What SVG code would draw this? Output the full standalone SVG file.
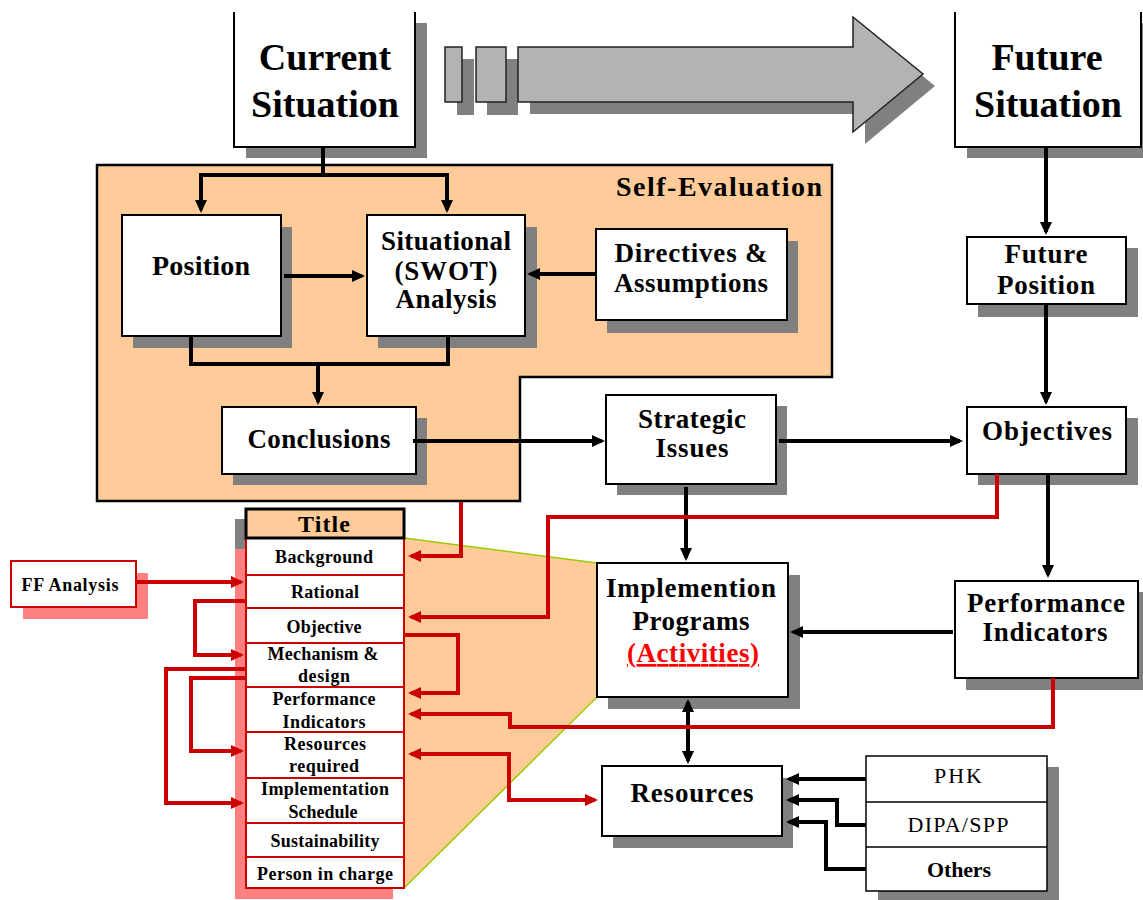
<svg xmlns="http://www.w3.org/2000/svg" width="1143" height="900" viewBox="0 0 1143 900">
  <style>
    .sh { fill: #808080; }
    .bx { fill: #ffffff; stroke: #000000; stroke-width: 2; }
    .rbx { fill: #ffffff; stroke: #cc0000; stroke-width: 2; }
    .t { font-weight: bold; text-anchor: middle; fill: #000; }
    .big { font-size: 38px; }
    .mid { font-size: 27px; }
    .sm { font-size: 18px; }
    .blk { fill: none; stroke: #000; stroke-width: 4; }
    .red { fill: none; stroke: #cc0000; stroke-width: 4; }
  </style>
  <defs>
    <marker id="ah" markerUnits="userSpaceOnUse" viewBox="0 0 14 14" markerWidth="14" markerHeight="14" refX="10" refY="7" orient="auto-start-reverse">
      <path d="M0,1 L13,7 L0,13 Z" fill="#000"/>
    </marker>
    <marker id="ahr" markerUnits="userSpaceOnUse" viewBox="0 0 14 14" markerWidth="14" markerHeight="14" refX="10" refY="7" orient="auto-start-reverse">
      <path d="M0,1 L13,7 L0,13 Z" fill="#cc0000"/>
    </marker>
  </defs>

  <rect width="1143" height="900" fill="#ffffff"/>

  <g font-family="'Liberation Serif', 'DejaVu Serif', serif">

  <!-- self-evaluation panel -->
  <g id="self-evaluation">
    <path d="M97,165 H832 V377 H520 V501 H97 Z" fill="#ffcc99" stroke="#000" stroke-width="2.5"/>
    <text x="616" y="196" font-size="28" font-weight="bold" textLength="206" lengthAdjust="spacing">Self-Evaluation</text>
  </g>

  <!-- projection from the form to the programme box -->
  <g id="projection">
    <polygon points="404,538 597,563 597,697 404,888" fill="#ffcc99"/>
    <path d="M404,538 L597,563 M597,697 L404,888" fill="none" stroke="#99cc00" stroke-width="1.5"/>
  </g>

  <!-- big progress arrow -->
  <g id="progress-arrow">
    <rect x="457" y="59" width="17" height="56" fill="#808080"/>
    <rect x="487" y="59" width="31" height="56" fill="#808080"/>
    <polygon points="530,59 865,59 865,29 935,86 865,144 865,114 530,114" fill="#808080"/>
    <rect x="445" y="47" width="17" height="55" fill="#b3b3b3" stroke="#222" stroke-width="1.5"/>
    <rect x="476" y="47" width="30" height="55" fill="#b3b3b3" stroke="#222" stroke-width="1.5"/>
    <polygon points="518,47 853,47 853,17 923,74 853,132 853,102 518,102" fill="#b3b3b3" stroke="#222" stroke-width="1.5"/>
  </g>

  <g id="current-situation">
    <rect class="sh" x="246" y="23" width="181" height="135"/>
    <rect x="234" y="12" width="181" height="135" fill="#fff"/>
    <path d="M234,12 V147 H415 V12" fill="none" stroke="#000" stroke-width="2"/>
    <text class="t big" x="325" y="70">Current</text>
    <text class="t big" x="325" y="117">Situation</text>
  </g>

  <g id="future-situation">
    <rect class="sh" x="967" y="23" width="186" height="135"/>
    <rect x="955" y="12" width="186" height="135" fill="#fff"/>
    <path d="M955,12 V147 H1141 V12" fill="none" stroke="#000" stroke-width="2"/>
    <text class="t big" x="1047" y="70">Future</text>
    <text class="t big" x="1048" y="117">Situation</text>
  </g>

  <g id="position">
    <rect class="sh" x="133" y="227" width="159" height="121"/>
    <rect class="bx" x="122" y="215" width="159" height="121"/>
    <text class="t" x="201" y="275" font-size="28" textLength="98" lengthAdjust="spacing">Position</text>
  </g>

  <g id="situational-analysis">
    <rect class="sh" x="378" y="227" width="159" height="121"/>
    <rect class="bx" x="367" y="215" width="158" height="121"/>
    <text class="t mid" x="446" y="250" textLength="130" lengthAdjust="spacing">Situational</text>
    <text class="t mid" x="446" y="280" textLength="103" lengthAdjust="spacing">(SWOT)</text>
    <text class="t mid" x="446" y="308" textLength="101" lengthAdjust="spacing">Analysis</text>
  </g>

  <g id="directives">
    <rect class="sh" x="607" y="241" width="191" height="92"/>
    <rect class="bx" x="596" y="229" width="191" height="91"/>
    <text class="t mid" x="691" y="262" textLength="153" lengthAdjust="spacing">Directives &amp;</text>
    <text class="t mid" x="691" y="292" textLength="154" lengthAdjust="spacing">Assumptions</text>
  </g>

  <g id="conclusions">
    <rect class="sh" x="233" y="418" width="194" height="67"/>
    <rect class="bx" x="222" y="407" width="194" height="67"/>
    <text class="t mid" x="319" y="448" textLength="143" lengthAdjust="spacing">Conclusions</text>
  </g>

  <g id="strategic-issues">
    <rect class="sh" x="617" y="406" width="170" height="89"/>
    <rect class="bx" x="606" y="395" width="170" height="89"/>
    <text class="t mid" x="692" y="428" textLength="108" lengthAdjust="spacing">Strategic</text>
    <text class="t mid" x="692" y="457" textLength="73" lengthAdjust="spacing">Issues</text>
  </g>

  <g id="future-position">
    <rect class="sh" x="978" y="248" width="160" height="69"/>
    <rect class="bx" x="967" y="237" width="159" height="67"/>
    <text class="t mid" x="1046" y="263" textLength="83" lengthAdjust="spacing">Future</text>
    <text class="t mid" x="1046" y="294" textLength="98" lengthAdjust="spacing">Position</text>
  </g>

  <g id="objectives">
    <rect class="sh" x="978" y="418" width="160" height="67"/>
    <rect class="bx" x="967" y="407" width="159" height="67"/>
    <text class="t mid" x="1047" y="440" textLength="130" lengthAdjust="spacing">Objectives</text>
  </g>

  <g id="performance-indicators">
    <rect class="sh" x="966" y="592" width="183" height="98"/>
    <rect class="bx" x="955" y="581" width="183" height="97"/>
    <text class="t mid" x="1046" y="612" textLength="158" lengthAdjust="spacing">Performance</text>
    <text class="t mid" x="1045" y="641" textLength="125" lengthAdjust="spacing">Indicators</text>
  </g>

  <g id="implementation-programs">
    <rect class="sh" x="608" y="575" width="192" height="134"/>
    <rect class="bx" x="597" y="563" width="191" height="134"/>
    <text class="t mid" x="691" y="597" textLength="170" lengthAdjust="spacing">Implemention</text>
    <text class="t mid" x="691" y="630" textLength="117" lengthAdjust="spacing">Programs</text>
    <text class="t mid" x="693" y="662" style="fill:#ff0000" text-decoration="underline" textLength="132" lengthAdjust="spacing">(Activities)</text>
  </g>

  <g id="resources">
    <rect class="sh" x="613" y="778" width="180" height="70"/>
    <rect class="bx" x="602" y="766" width="180" height="70"/>
    <text class="t mid" x="692" y="802" textLength="123" lengthAdjust="spacing">Resources</text>
  </g>

  <g id="funding-sources">
    <rect class="sh" x="878" y="767" width="181" height="135"/>
    <rect x="866" y="756" width="181" height="135" fill="#fff" stroke="#000" stroke-width="1.5"/>
    <path d="M866,802 H1047 M866,847 H1047" stroke="#000" stroke-width="1.5"/>
    <text x="958" y="783" font-size="22" text-anchor="middle" textLength="48" lengthAdjust="spacing">PHK</text>
    <text x="958" y="832" font-size="22" text-anchor="middle" textLength="101" lengthAdjust="spacing">DIPA/SPP</text>
    <text class="t" x="959" y="877" font-size="22" textLength="64" lengthAdjust="spacing">Others</text>
  </g>

  <g id="ff-analysis">
    <rect x="23" y="573" width="125" height="46" fill="#ff8080"/>
    <rect class="rbx" x="11" y="561" width="125" height="46"/>
    <text class="t" x="70" y="591" font-size="18" textLength="97" lengthAdjust="spacing">FF Analysis</text>
  </g>

  <!-- programme form: title and sections -->
  <g id="program-form">
    <rect x="235" y="519" width="159" height="30" fill="#808080"/>
    <rect x="235" y="549" width="158" height="350" fill="#ff8080"/>
    <rect class="rbx" x="246" y="538" width="158" height="350"/>
    <path d="M246,575 H404 M246,608 H404 M246,643 H404 M246,687 H404 M246,732 H404 M246,778 H404 M246,823 H404 M246,857 H404" stroke="#cc0000" stroke-width="2"/>
    <rect x="246" y="509" width="158" height="29" fill="#ffcc99" stroke="#000" stroke-width="3"/>
    <text class="t" x="324" y="532" font-size="24" textLength="52" lengthAdjust="spacing">Title</text>
    <text class="t sm" x="324" y="563" textLength="98" lengthAdjust="spacing">Background</text>
    <text class="t sm" x="325" y="598" textLength="68" lengthAdjust="spacing">Rational</text>
    <text class="t sm" x="324" y="633" textLength="75" lengthAdjust="spacing">Objective</text>
    <text class="t sm" x="323" y="660" textLength="111" lengthAdjust="spacing">Mechanism &amp;</text>
    <text class="t sm" x="324" y="682" textLength="52" lengthAdjust="spacing">design</text>
    <text class="t sm" x="324" y="705" textLength="103" lengthAdjust="spacing">Performance</text>
    <text class="t sm" x="324" y="728" textLength="83" lengthAdjust="spacing">Indicators</text>
    <text class="t sm" x="325" y="750" textLength="82" lengthAdjust="spacing">Resources</text>
    <text class="t sm" x="324" y="772" textLength="70" lengthAdjust="spacing">required</text>
    <text class="t sm" x="325" y="795" textLength="128" lengthAdjust="spacing">Implementation</text>
    <text class="t sm" x="323" y="818" textLength="69" lengthAdjust="spacing">Schedule</text>
    <text class="t sm" x="325" y="847" textLength="109" lengthAdjust="spacing">Sustainability</text>
    <text class="t sm" x="325" y="880" textLength="136" lengthAdjust="spacing">Person in charge</text>
  </g>

  </g>

  <!-- connectors -->
  <g id="connectors">
    <path class="blk" d="M323,147 V175"/>
    <path class="blk" d="M201,210 V175 H447 V210" marker-start="url(#ah)" marker-end="url(#ah)"/>
    <path class="blk" d="M284,276 H362" marker-end="url(#ah)"/>
    <path class="blk" d="M191,336 V364 H448 V336"/>
    <path class="blk" d="M318,364 V402" marker-end="url(#ah)"/>
    <path class="blk" d="M596,274 H530" marker-end="url(#ah)"/>
    <path class="blk" d="M413,441 H602" marker-end="url(#ah)"/>
    <path class="blk" d="M779,441 H960" marker-end="url(#ah)"/>
    <path class="blk" d="M1046,147 V232" marker-end="url(#ah)"/>
    <path class="blk" d="M1046,304 V402" marker-end="url(#ah)"/>
    <path class="blk" d="M1048,474 V575" marker-end="url(#ah)"/>
    <path class="blk" d="M686,487 V558" marker-end="url(#ah)"/>
    <path class="blk" d="M953,632 H793" marker-end="url(#ah)"/>
    <path class="blk" d="M688,702 V761" marker-start="url(#ah)" marker-end="url(#ah)"/>
    <path class="blk" d="M866,779 H789" marker-end="url(#ah)"/>
    <path class="blk" d="M866,825 H837 V800 H789" marker-end="url(#ah)"/>
    <path class="blk" d="M866,869 H826 V822 H789" marker-end="url(#ah)"/>

    <path class="red" d="M461,502 V556 H411" marker-end="url(#ahr)"/>
    <path class="red" d="M997,474 V517 H548 V617 H411" marker-end="url(#ahr)"/>
    <path class="red" d="M404,635 H458 V693 H411" marker-end="url(#ahr)"/>
    <path class="red" d="M1053,678 V727 H510 V714 H411" marker-end="url(#ahr)"/>
    <path class="red" d="M411,754 H509 V800 H595" marker-start="url(#ahr)" marker-end="url(#ahr)"/>
    <path class="red" d="M136,582 H241" marker-end="url(#ahr)"/>
    <path class="red" d="M246,601 H195 V655 H241" marker-end="url(#ahr)"/>
    <path class="red" d="M246,678 H191 V751 H241" marker-end="url(#ahr)"/>
    <path class="red" d="M246,669 H166 V803 H241" marker-end="url(#ahr)"/>
  </g>
</svg>
